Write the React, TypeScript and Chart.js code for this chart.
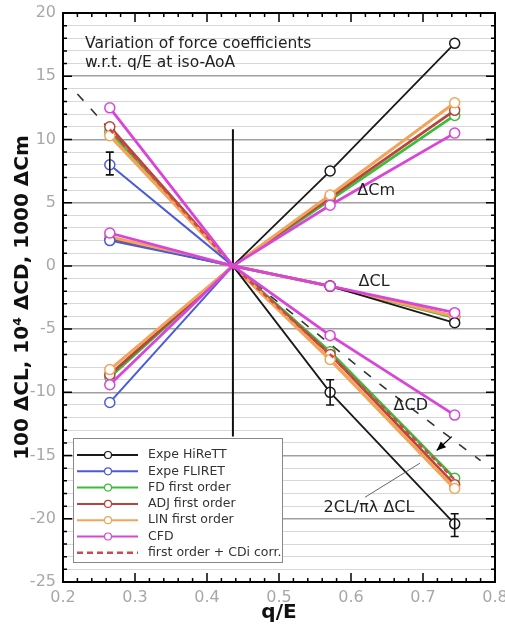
import React, { useEffect, useRef } from 'react';
import { Chart, registerables } from 'chart.js';

Chart.register(...registerables);

// q/E stations
const qE = [0.265, 0.436, 0.571, 0.744];

// 1000 ΔCm
const cmHiReTT = [null, 0, 7.5, 17.6];
const cmFLIRET = [-10.8, 0, null, null];
const cmFD = [-8.8, 0, 5.2, 11.9];
const cmADJ = [-8.6, 0, 5.4, 12.3];
const cmLIN = [-8.2, 0, 5.6, 12.9];
const cmCFD = [-9.4, 0, 4.8, 10.5];

// 100 ΔCL
const clHiReTT = [null, 0, -1.6, -4.5];
const clFLIRET = [2.0, 0, null, null];
const clFD = [2.2, 0, -1.6, -4.1];
const clADJ = [2.2, 0, -1.6, -4.0];
const clLIN = [2.3, 0, -1.6, -4.0];
const clCFD = [2.6, 0, -1.6, -3.7];

// 10^4 ΔCD
const cdHiReTT = [null, 0, -10.0, -20.4];
const cdFLIRET = [8.0, 0, null, null];
const cdFD = [10.6, 0, -6.8, -16.8];
const cdADJ = [11.0, 0, -7.0, -17.3];
const cdLIN = [10.3, 0, -7.4, -17.6];
const cdCFD = [12.5, 0, -5.5, -11.8];
const cdCorr = [10.8, 0, -7.0, -16.9];

// 2CL/πλ ΔCL reference (dashed)
const theoryX = [0.22, 0.436, 0.65, 0.78];
const theoryY = [13.6, 0, -9.8, -15.4];

// reference vertical line at iso-AoA point
const refLineX = [0.436, 0.436];
const refLineY = [10.8, -13.5];

// experimental error bars
const errX = [0.265, 0.571, 0.744];
const errLow = [7.2, -11.0, -21.4];
const errHigh = [9.0, -9.0, -19.6];

const seriesNames = ['Expe HiReTT', 'Expe FLIRET', 'FD first order', 'ADJ first order', 'LIN first order', 'CFD', 'first order + CDi corr.'];

const xTickMin = 0.2;
const xTickMax = 0.8;
const yTickMin = -25;
const yTickMax = 20;

const annotTexts = ['ΔCm', 'ΔCL', 'ΔCD', '2CL/πλ ΔCL'];
const annotX = [0.635, 0.632, 0.683, 0.625];
const annotY = [5.9, -1.3, -11.1, -19.1];

const noteLines = ['Variation of force coefficients', 'w.r.t. q/E at iso-AoA'];
const noteX = 0.2306;
const noteY = [17.55, 16.05];

const pointerX = [0.6194, 0.6958];
const pointerY = [-18.3, -15.6];
const arrowX = [0.740, 0.719];
const arrowY = [-13.5, -14.6];

const colors = {
  hiretT: '#1a1a1a',
  fliret: '#4b5bd4',
  fd: '#3dbb3d',
  adj: '#b8443c',
  lin: '#f2a55a',
  cfd: '#d945d9',
  corr: '#d04848',
  theory: '#333333',
};
const seriesColors = [colors.hiretT, colors.fliret, colors.fd, colors.adj, colors.lin, colors.cfd, colors.corr];

const markerRadius = [5, 0, 5, 5];

function mk(vals: (number | null)[], color: string, order: number, width: number, extra: any = {}) {
  return {
    data: qE.map((q, i) => ({ x: q, y: vals[i] })),
    borderColor: color,
    backgroundColor: '#ffffff',
    borderWidth: width,
    pointRadius: markerRadius,
    pointBorderWidth: 1.5,
    pointBackgroundColor: '#ffffff',
    pointBorderColor: color,
    order,
    tension: 0,
    fill: false,
    ...extra,
  };
}

const decor = {
  id: 'decor',
  afterDatasetsDraw(chart: any) {
    const { ctx, scales } = chart;
    const x = scales.x;
    const y = scales.y;
    ctx.save();
    // error bars
    ctx.strokeStyle = '#111';
    ctx.lineWidth = 1.6;
    errX.forEach((ex, i) => {
      const px = x.getPixelForValue(ex);
      const p1 = y.getPixelForValue(errLow[i]);
      const p2 = y.getPixelForValue(errHigh[i]);
      ctx.beginPath();
      ctx.moveTo(px, p1); ctx.lineTo(px, p2);
      ctx.moveTo(px - 4, p1); ctx.lineTo(px + 4, p1);
      ctx.moveTo(px - 4, p2); ctx.lineTo(px + 4, p2);
      ctx.stroke();
    });
    // pointer line
    ctx.strokeStyle = '#666';
    ctx.lineWidth = 1;
    ctx.beginPath();
    ctx.moveTo(x.getPixelForValue(pointerX[0]), y.getPixelForValue(pointerY[0]));
    ctx.lineTo(x.getPixelForValue(pointerX[1]), y.getPixelForValue(pointerY[1]));
    ctx.stroke();
    // arrow
    const ax0 = x.getPixelForValue(arrowX[0]);
    const ay0 = y.getPixelForValue(arrowY[0]);
    const ax1 = x.getPixelForValue(arrowX[1]);
    const ay1 = y.getPixelForValue(arrowY[1]);
    ctx.strokeStyle = '#000';
    ctx.lineWidth = 1.2;
    ctx.beginPath();
    ctx.moveTo(ax0, ay0); ctx.lineTo(ax1, ay1);
    ctx.stroke();
    const ang = Math.atan2(ay1 - ay0, ax1 - ax0);
    ctx.fillStyle = '#000';
    ctx.beginPath();
    ctx.moveTo(ax1, ay1);
    ctx.lineTo(ax1 - 10 * Math.cos(ang - 0.4), ay1 - 10 * Math.sin(ang - 0.4));
    ctx.lineTo(ax1 - 10 * Math.cos(ang + 0.4), ay1 - 10 * Math.sin(ang + 0.4));
    ctx.closePath();
    ctx.fill();
    // annotations
    ctx.fillStyle = '#222';
    ctx.font = '16px "DejaVu Sans"';
    ctx.textAlign = 'center';
    ctx.textBaseline = 'middle';
    annotTexts.forEach((t, i) => {
      ctx.fillText(t, x.getPixelForValue(annotX[i]), y.getPixelForValue(annotY[i]));
    });
    // note
    ctx.font = '15.5px "DejaVu Sans"';
    ctx.textAlign = 'left';
    noteLines.forEach((t, i) => {
      ctx.fillText(t, x.getPixelForValue(noteX), y.getPixelForValue(noteY[i]));
    });
    ctx.restore();
  },
  afterDraw(chart: any) {
    const { ctx, chartArea: a, scales } = chart;
    const x = scales.x;
    const y = scales.y;
    ctx.save();
    // frame
    ctx.strokeStyle = '#000';
    ctx.lineWidth = 2;
    ctx.strokeRect(a.left, a.top, a.right - a.left, a.bottom - a.top);
    // border ticks
    ctx.lineWidth = 1.5;
    ctx.beginPath();
    for (let v = yTickMin; v <= yTickMax; v++) {
      const len = v % 5 === 0 ? 9 : 4;
      const py = y.getPixelForValue(v);
      ctx.moveTo(a.left, py); ctx.lineTo(a.left + len, py);
      ctx.moveTo(a.right, py); ctx.lineTo(a.right - len, py);
    }
    for (let k = 0; k <= 30; k++) {
      const xv = xTickMin + k * 0.02;
      const len = k % 5 === 0 ? 9 : 4;
      const px = x.getPixelForValue(xv);
      ctx.moveTo(px, a.bottom); ctx.lineTo(px, a.bottom - len);
      ctx.moveTo(px, a.top); ctx.lineTo(px, a.top + len);
    }
    ctx.stroke();
    // legend
    const lx = a.left + 10;
    const ly = a.top + 425;
    const lw = 209;
    const lh = 124;
    ctx.fillStyle = '#ffffff';
    ctx.fillRect(lx, ly, lw, lh);
    ctx.strokeStyle = '#888';
    ctx.lineWidth = 1;
    ctx.strokeRect(lx + 0.5, ly + 0.5, lw, lh);
    ctx.font = '12.5px "DejaVu Sans"';
    ctx.textAlign = 'left';
    ctx.textBaseline = 'middle';
    seriesNames.forEach((name, i) => {
      const ry = ly + 17 + i * 16.3;
      const c = seriesColors[i];
      ctx.strokeStyle = c;
      ctx.lineWidth = i === 6 ? 2.5 : 2;
      ctx.setLineDash(i === 6 ? [6, 4] : []);
      ctx.beginPath();
      ctx.moveTo(lx + 4, ry); ctx.lineTo(lx + 65, ry);
      ctx.stroke();
      ctx.setLineDash([]);
      if (i < 6) {
        ctx.fillStyle = '#fff';
        ctx.lineWidth = 1.2;
        ctx.beginPath();
        ctx.arc(lx + 35, ry, 3.5, 0, Math.PI * 2);
        ctx.fill();
        ctx.stroke();
      }
      ctx.fillStyle = '#333';
      ctx.fillText(name, lx + 75, ry);
    });
    ctx.restore();
  },
};

export default function App() {
  const ref = useRef<HTMLCanvasElement | null>(null);
  useEffect(() => {
    document.body.style.margin = '0';
    document.body.style.overflow = 'hidden';
    Chart.defaults.font.family = '"DejaVu Sans"';
    const datasets: any[] = [
      // CFD
      mk(cmCFD, colors.cfd, 1, 2.8), mk(clCFD, colors.cfd, 1, 2.8), mk(cdCFD, colors.cfd, 1, 2.8),
      // HiReTT
      mk(cmHiReTT, colors.hiretT, 2, 1.8), mk(clHiReTT, colors.hiretT, 2, 1.8), mk(cdHiReTT, colors.hiretT, 2, 1.8),
      // FLIRET
      mk(cmFLIRET, colors.fliret, 3, 2), mk(clFLIRET, colors.fliret, 3, 2), mk(cdFLIRET, colors.fliret, 3, 2),
      // corrected
      mk(cdCorr, colors.corr, 4, 2.5, { pointRadius: 0, borderDash: [5, 4] }),
      // LIN
      mk(cmLIN, colors.lin, 5, 3), mk(clLIN, colors.lin, 5, 3), mk(cdLIN, colors.lin, 5, 3.5),
      // ADJ
      mk(cmADJ, colors.adj, 6, 2.8), mk(clADJ, colors.adj, 6, 2.8), mk(cdADJ, colors.adj, 6, 2.8),
      // FD
      mk(cmFD, colors.fd, 7, 2.8), mk(clFD, colors.fd, 7, 2.8), mk(cdFD, colors.fd, 7, 2.8),
      // theory dashed
      {
        data: theoryX.map((q, i) => ({ x: q, y: theoryY[i] })),
        borderColor: colors.theory, borderWidth: 1.6, borderDash: [9, 11],
        pointRadius: 0, order: 8, tension: 0, fill: false,
      },
      // vertical reference
      {
        data: refLineX.map((q, i) => ({ x: q, y: refLineY[i] })),
        borderColor: '#111', borderWidth: 2, pointRadius: 0, order: 9, fill: false,
      },
    ];
    const chart = new Chart(ref.current as HTMLCanvasElement, {
      type: 'line',
      data: { datasets },
      options: {
        animation: false,
        responsive: false,
        devicePixelRatio: 1,
        layout: { padding: { top: 13, right: 10, left: 0, bottom: 0 } },
        plugins: { legend: { display: false }, tooltip: { enabled: false } },
        scales: {
          x: {
            type: 'linear',
            min: xTickMin,
            max: xTickMax,
            grid: { display: false, drawTicks: false },
            border: { display: false },
            ticks: {
              stepSize: 0.1,
              padding: 6,
              color: '#a8a8a8',
              font: { size: 16, family: '"DejaVu Sans"' },
              callback: (v: any) => Number(v).toFixed(1),
            },
            title: {
              display: true,
              text: 'q/E',
              color: '#111',
              font: { size: 20, weight: 'bold', family: '"DejaVu Sans"' },
              padding: { top: 0, bottom: 9 },
            },
            afterFit: (s: any) => { s.height = 52; s.paddingLeft = 0; s.paddingRight = 0; },
          },
          y: {
            type: 'linear',
            min: yTickMin,
            max: yTickMax,
            grid: {
              drawTicks: false,
              color: (c: any) => (c.tick && Math.round(c.tick.value) % 5 === 0 ? '#a0a0a0' : '#d8d8d8'),
              lineWidth: (c: any) => (c.tick && Math.round(c.tick.value) % 5 === 0 ? 1.5 : 1),
            },
            border: { display: false },
            ticks: {
              stepSize: 1,
              autoSkip: false,
              padding: 7,
              color: '#a8a8a8',
              font: { size: 16, family: '"DejaVu Sans"' },
              callback: (v: any) => {
                const n = Math.round(Number(v));
                return n % 5 === 0 ? String(n) : '';
              },
            },
            title: {
              display: true,
              text: '100 ΔCL, 10⁴ ΔCD, 1000 ΔCm',
              color: '#111',
              font: { size: 20, weight: 'bold', family: '"DejaVu Sans"' },
              padding: { top: 11, bottom: 0 },
            },
            afterFit: (s: any) => { s.width = 63; s.paddingTop = 0; s.paddingBottom = 0; },
          },
        },
      },
      plugins: [decor],
    });
    return () => chart.destroy();
  }, []);
  return (
    <div style={{ width: 505, height: 634, background: '#fff' }}>
      <canvas ref={ref} width={505} height={634} style={{ display: 'block' }} />
    </div>
  );
}
